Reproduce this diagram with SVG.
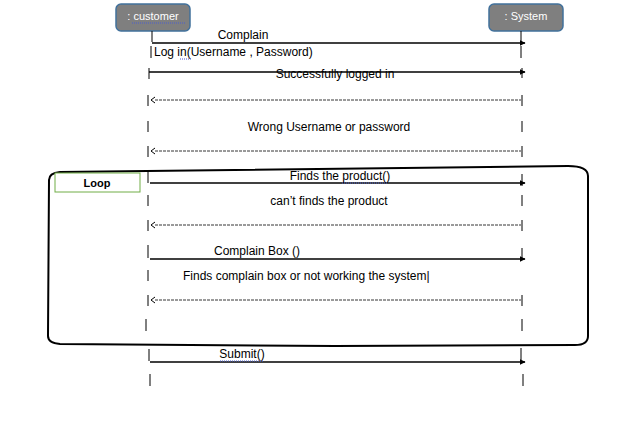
<svg xmlns="http://www.w3.org/2000/svg" width="640" height="435" viewBox="0 0 640 435">
<style>
text{font-family:"Liberation Sans",Arial,sans-serif;font-size:12px;fill:#000}
.actor rect{fill:#7f7f7f;stroke:#41719c;stroke-width:1.5}
.actor text{fill:#fff;font-size:11px;text-anchor:middle}
.msg{stroke:#000;stroke-width:1.6;fill:none;marker-end:url(#arr)}
.ret{stroke:#000;stroke-width:0.8;stroke-dasharray:3 1;fill:none}
.bar{stroke:#000;stroke-width:1;fill:none}
.sq{stroke:#4a5fd0;stroke-width:1;stroke-dasharray:1 1;fill:none}
.c{text-anchor:middle}
</style>
<defs>
<marker id="arr" viewBox="0 0 10 10" refX="9" refY="5" markerWidth="6" markerHeight="6" markerUnits="userSpaceOnUse" orient="auto">
<path d="M0 0 L10 5 L0 10 z" fill="#000"/>
</marker>
</defs>
<rect width="640" height="435" fill="#fff"/>

<g id="customer" class="actor">
<rect x="116" y="4" width="74" height="27" rx="5"/>
<text x="153" y="20">: customer</text>
<path class="sq" d="M132 23 H185"/>
</g>
<g id="system" class="actor">
<rect x="489" y="4" width="74" height="27" rx="5"/>
<text x="526" y="20">: System</text>
</g>

<g id="loop">
<path d="M49 180 Q49 173 60 172 L568 166 Q588 166 588 176 L588 336 Q588 345 575 345 L335 346 L60 344 Q48 343 48 336 Z" fill="none" stroke="#000" stroke-width="2"/>
<rect x="55" y="173" width="85" height="19" fill="#fff" stroke="#70ad47" stroke-width="1"/>
<text x="97" y="187" class="c" style="font-weight:bold;font-size:11px">Loop</text>
</g>

<g id="lifeline-bars">
<path class="bar" d="M152 31 V42 M521 31 V42 M151 46 V58 M521 46 V58 M149 68 V79 M522 68 V78 M148 95 V106 M522 95 V106 M148 121 V132 M522 121 V132 M148 146 V157 M522 146 V157 M148 171 V183 M522 174 V186 M148 195 V206 M522 195 V206 M148 220 V231 M522 220 V231 M148 245 V258 M522 248 V260 M148 270 V281 M148 295 V306 M522 295 V306 M146 319 V331 M522 319 V331 M149 349 V361 M521 348 V360 M150 374 V386 M523 374 V386"/>
</g>

<g id="connectors">
<line class="msg" x1="152" y1="43" x2="525" y2="43"/>
<line class="msg" x1="149" y1="72" x2="525" y2="72"/>
<path class="ret" d="M155 100 H521"/>
<path class="bar" d="M155 97 L151 100 L155 103"/>
<path class="ret" d="M155 151 H521"/>
<path class="bar" d="M155 148 L151 151 L155 154"/>
<line class="msg" x1="150" y1="183" x2="525" y2="183"/>
<path class="ret" d="M155 225 H521"/>
<path class="bar" d="M155 222 L151 225 L155 228"/>
<line class="msg" x1="150" y1="259" x2="525" y2="259"/>
<path class="ret" d="M155 300 H521"/>
<path class="bar" d="M155 297 L151 300 L155 303"/>
<line class="msg" x1="150" y1="362" x2="525" y2="362"/>
</g>

<g id="labels">
<text x="243" y="39" class="c">Complain</text>
<text x="154" y="56">Log in(Username , Password)</text>
<path class="sq" d="M180 59 H191"/>
<text x="335" y="78" class="c">Successfully logged in</text>
<text x="329" y="131" class="c">Wrong Username or password</text>
<text x="340" y="180" class="c">Finds the product()</text>
<path class="sq" d="M342 183 H387"/>
<text x="329" y="205" class="c">can’t finds the product</text>
<text x="257" y="255" class="c">Complain Box ()</text>
<text x="183" y="280">Finds complain box or not working the system|</text>
<text x="242" y="358" class="c">Submit()</text>
<path class="sq" d="M220 361 H264"/>
</g>
</svg>
